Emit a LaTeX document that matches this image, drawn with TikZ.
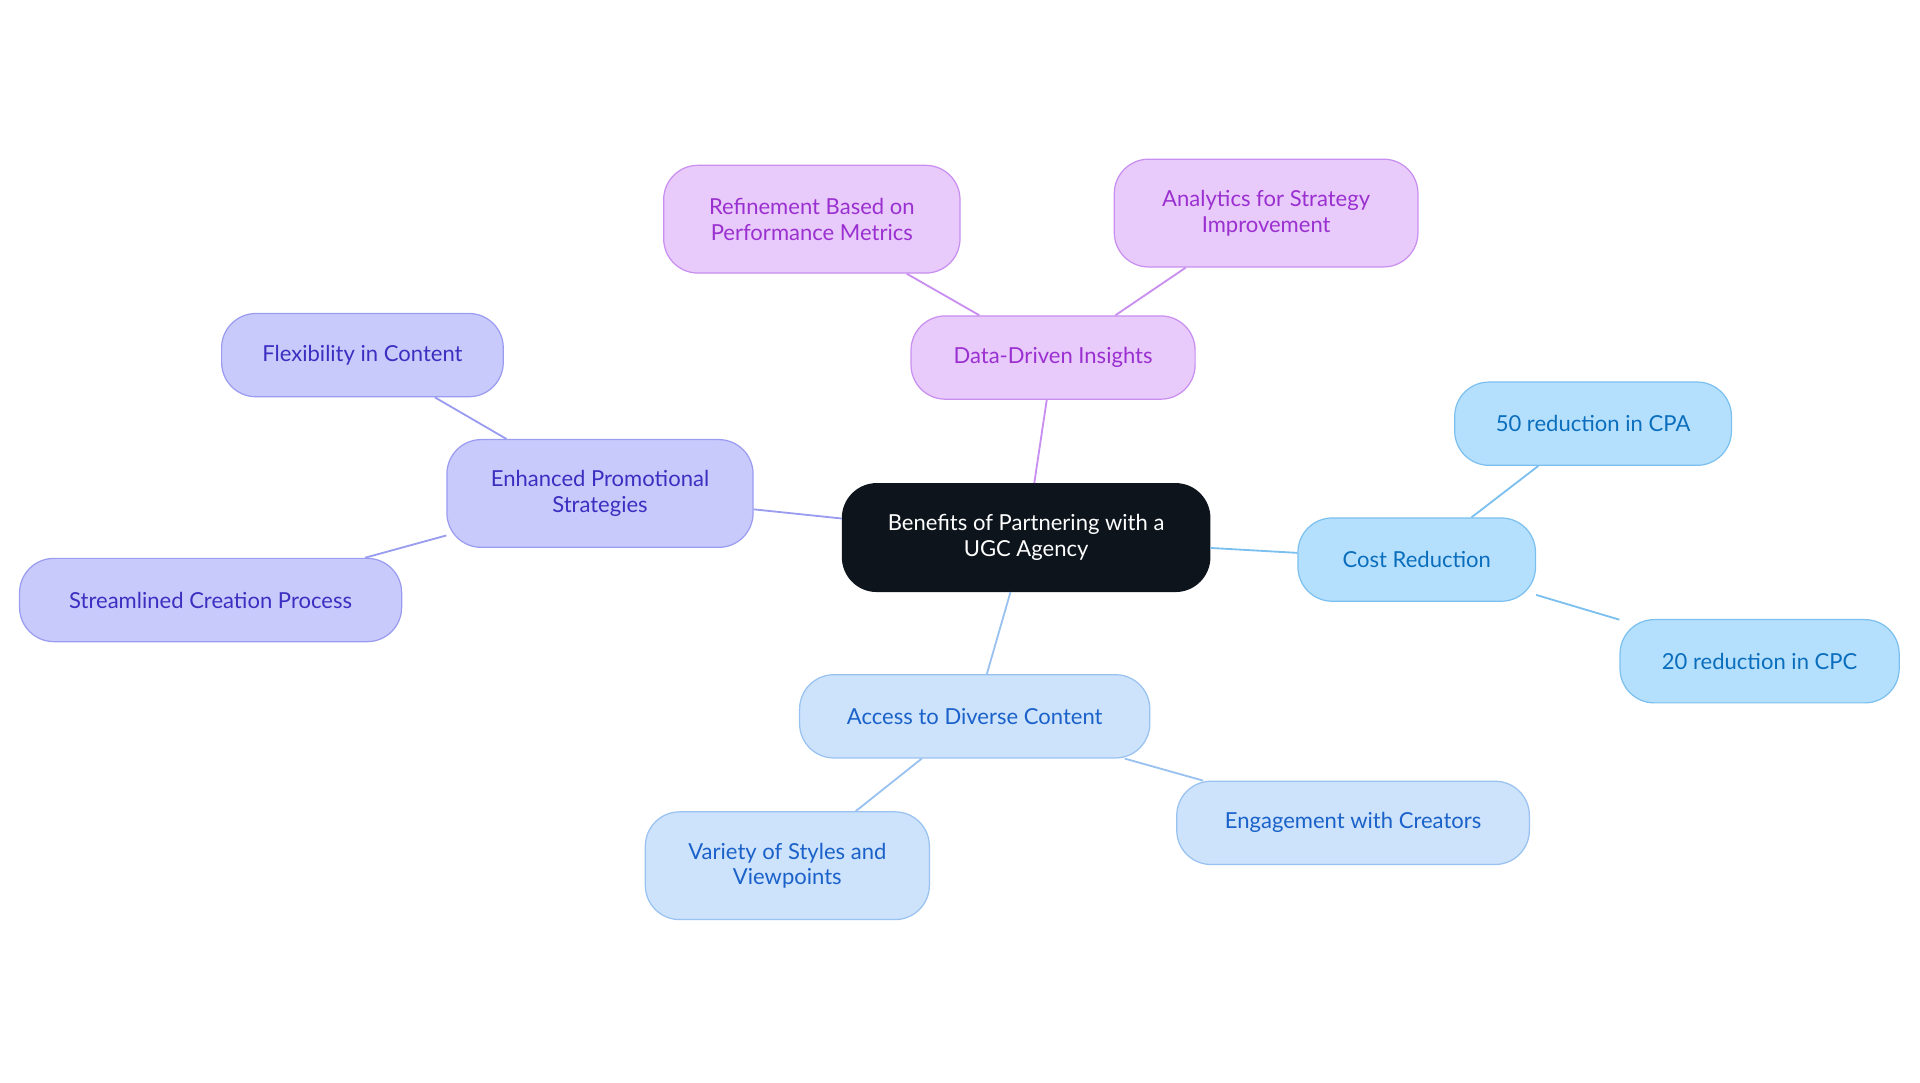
\documentclass[tikz,border=0pt]{standalone}
\usepackage{fontspec}
\setmainfont{Lato}
\definecolor{rootfill}{HTML}{0D141C}
\definecolor{purfill}{HTML}{E8CAFB}\definecolor{purline}{HTML}{C98FF0}\definecolor{purtext}{HTML}{9B30D0}
\definecolor{indfill}{HTML}{C9CAFC}\definecolor{indline}{HTML}{9A9CF0}\definecolor{indtext}{HTML}{3A2FC0}
\definecolor{skyfill}{HTML}{B5E0FD}\definecolor{skyline}{HTML}{7CC0EF}\definecolor{skytext}{HTML}{0A6EBD}
\definecolor{palefill}{HTML}{CDE2FB}\definecolor{paleline}{HTML}{99C2F0}\definecolor{paletext}{HTML}{1A62C9}
\tikzset{every picture/.style={line width=1.5pt}}
\tikzset{
  pill/.style={rectangle, rounded corners=28pt, align=center, inner sep=0pt,
    font=\fontsize{18}{21}\selectfont, line width=1pt},
  root/.style={pill, fill=rootfill, draw=rootfill, text=white},
  pur/.style={pill, fill=purfill, draw=purline, text=purtext},
  ind/.style={pill, fill=indfill, draw=indline, text=indtext},
  sky/.style={pill, fill=skyfill, draw=skyline, text=skytext},
  pale/.style={pill, fill=palefill, draw=paleline, text=paletext},
}
\begin{document}
\begin{tikzpicture}[x=1pt,y=-1pt]
\useasboundingbox (0,0) rectangle (1568,884);

% Nodes
\node (root) [root, minimum width=300pt, minimum height=88pt] at (838,439) {Benefits of Partnering with a\\UGC Agency};
\node (data) [pur, minimum width=232pt, minimum height=68pt] at (860,292) {Data-Driven Insights};
\node (refine) [pur, minimum width=242pt, minimum height=88pt] at (663,179) {Refinement Based on\\Performance Metrics};
\node (analytics) [pur, minimum width=248pt, minimum height=88pt] at (1034,174) {Analytics for Strategy\\Improvement};
\node (promo) [ind, minimum width=250pt, minimum height=88pt] at (490,403) {Enhanced Promotional\\Strategies};
\node (flex) [ind, minimum width=230pt, minimum height=68pt] at (296,290) {Flexibility in Content};
\node (stream) [ind, minimum width=312pt, minimum height=68pt] at (172,490) {Streamlined Creation Process};
\node (cost) [sky, minimum width=194pt, minimum height=68pt] at (1157,457) {Cost Reduction};
\node (cpa) [sky, minimum width=226pt, minimum height=68pt] at (1301,346) {50 reduction in CPA};
\node (cpc) [sky, minimum width=228pt, minimum height=68pt] at (1437,540) {20 reduction in CPC};
\node (access) [pale, minimum width=286pt, minimum height=68pt] at (796,585) {Access to Diverse Content};
\node (variety) [pale, minimum width=232pt, minimum height=88pt] at (643,707) {Variety of Styles and\\Viewpoints};
\node (engage) [pale, minimum width=288pt, minimum height=68pt] at (1105,672) {Engagement with Creators};

% Connectors
\draw [purline] (root) -- (data);
\draw [purline] (data) -- (refine);
\draw [purline] (data) -- (analytics);
\draw [indline] (root) -- (promo);
\draw [indline] (promo) -- (flex);
\draw [indline] (promo) -- (stream);
\draw [skyline] (root) -- (cost);
\draw [skyline] (cost) -- (cpa);
\draw [skyline] (cost) -- (cpc);
\draw [paleline] (root) -- (access);
\draw [paleline] (access) -- (variety);
\draw [paleline] (access) -- (engage);
\end{tikzpicture}
\end{document}
